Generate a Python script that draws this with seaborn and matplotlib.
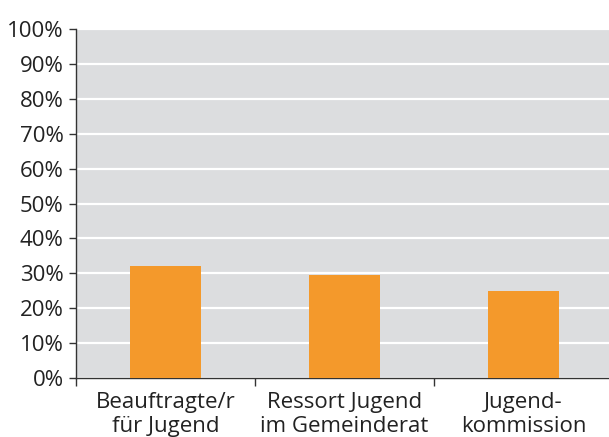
import matplotlib
matplotlib.use("Agg")
import matplotlib.pyplot as plt
from matplotlib.ticker import FixedLocator
import pandas as pd
import seaborn as sns

# data
categories = ["Beauftragte/r\nfür Jugend", "Ressort Jugend\nim Gemeinderat", "Jugend-\nkommission"]
shares = [32, 29.5, 25]
y_ticks = [0, 10, 20, 30, 40, 50, 60, 70, 80, 90, 100]
y_labels = [f"{t}%" for t in y_ticks]

df = pd.DataFrame({"category": categories, "share": shares})

sns.set_style("white")
plt.rcParams["font.family"] = ["Open Sans", "DejaVu Sans"]

fig = plt.figure(figsize=(6.09, 4.37), dpi=100)
ax = fig.add_axes([76 / 609, 59 / 437, 537 / 609, 349 / 437])
ax.set_facecolor("#dcdddf")

sns.barplot(data=df, x="category", y="share", color="#f4992b", width=0.4,
            saturation=1, linewidth=0, edgecolor="none", ax=ax, zorder=3)

ax.set_xlim(-0.5, 2.5)
ax.set_ylim(0, 100)
ax.set_yticks(y_ticks)
ax.set_yticklabels(y_labels)
ax.yaxis.grid(True, color="white", linewidth=1.6, zorder=1)
ax.set_axisbelow(True)

ax.set_xlabel("")
ax.set_ylabel("")

for side in ["top", "right"]:
    ax.spines[side].set_visible(False)
for side in ["left", "bottom"]:
    ax.spines[side].set_color("#333333")
    ax.spines[side].set_linewidth(1.0)

ax.tick_params(axis="y", length=5, width=1, color="#333333", pad=4,
               labelsize=16, labelcolor="#222222", direction="out", left=True)
ax.tick_params(axis="x", which="major", length=0, pad=10,
               labelsize=16, labelcolor="#222222")
ax.xaxis.set_minor_locator(FixedLocator([-0.5, 0.5, 1.5]))
ax.tick_params(axis="x", which="minor", length=6, width=1, color="#333333",
               direction="out", bottom=True)
for lbl in ax.get_xticklabels():
    lbl.set_linespacing(1.2)

fig.savefig("out.png", dpi=100)
